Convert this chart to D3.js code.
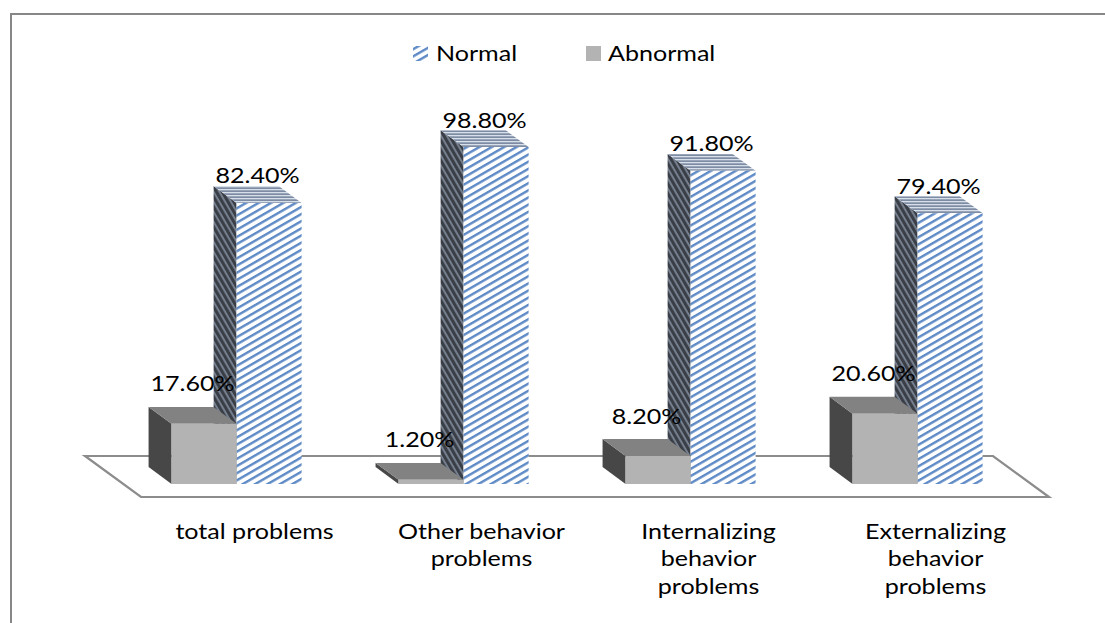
<!DOCTYPE html>
<html>
<head>
<meta charset="utf-8">
<script src="https://cdn.jsdelivr.net/npm/d3@7"></script>
<style>
  body { margin: 0; background: #fff; }
  svg text { font-family: Lato, "Open Sans", sans-serif; font-weight: 400; fill: #000; }
</style>
</head>
<body>
<svg id="chart" width="1105" height="623"></svg>
<script>
// ---- data ----
const categories = ["total problems", "Other behavior problems", "Internalizing behavior problems", "Externalizing behavior problems"];
const seriesNames = ["Normal", "Abnormal"];
const normalValues = [82.4, 98.8, 91.8, 79.4];
const abnormalValues = [17.6, 1.2, 8.2, 20.6];

const svg = d3.select("#chart");
const fmt = v => v.toFixed(2) + "%";
const FONT = 22, WIDEN = 1.14;   // text is drawn slightly widened horizontally

// ---- patterns ----
const defs = svg.append("defs");
function stripes(id, bg, fg, period, thick, angle) {
  const p = defs.append("pattern").attr("id", id)
    .attr("patternUnits", "userSpaceOnUse")
    .attr("width", period).attr("height", period)
    .attr("patternTransform", `rotate(${angle})`);
  p.append("rect").attr("width", period).attr("height", period).attr("fill", bg);
  p.append("rect").attr("width", period).attr("height", thick).attr("fill", fg);
}
stripes("normalFront", "#ffffff", "#5e8ac6", 6.2, 2.4, -30);
stripes("normalSide", "#3a3f47", "#7b8594", 5, 1.8, 60);
stripes("normalTop", "#7d8ca2", "#d6dfea", 3, 1.3, 0);

// ---- chart frame ----
svg.append("rect")
  .attr("x", 11).attr("y", 14).attr("width", 1200).attr("height", 700)
  .attr("fill", "none").attr("stroke", "#878787").attr("stroke-width", 2);

// ---- 3D projection ----
const floorFrontY = 497, floorLeft = 141, floorRight = 1049;
const floorDepth = [-56, -41];   // screen offset from front edge to back edge of the floor
const zFront = 0.32, zBack = 0.73;

const x = d3.scaleBand().domain(categories)
  .range([floorLeft, floorRight]).paddingInner(0.427).paddingOuter(0.2135);
const xs = d3.scaleBand().domain(["Abnormal", "Normal"]).range([0, x.bandwidth()]);
const y = d3.scaleLinear().domain([0, 100]).range([0, 341]);

function proj(px, h, z) {
  return [px + z * floorDepth[0], floorFrontY + z * floorDepth[1] - h];
}
const poly = pts => pts.map(p => p.join(",")).join(" ");

// helper: widened text anchored at (px, py)
function label(px, py, anchor) {
  return svg.append("text")
    .attr("transform", `translate(${px},${py}) scale(${WIDEN},1)`)
    .attr("text-anchor", anchor)
    .attr("font-size", FONT);
}

// floor
svg.append("polygon")
  .attr("points", poly([proj(floorLeft, 0, 0), proj(floorRight, 0, 0), proj(floorRight, 0, 1), proj(floorLeft, 0, 1)]))
  .attr("fill", "#fff").attr("stroke", "#8c8c8c").attr("stroke-width", 2.2);

// ---- bars ----
const styles = {
  Normal:   { front: "url(#normalFront)", side: "url(#normalSide)", top: "url(#normalTop)" },
  Abnormal: { front: "#b3b3b3", side: "#474747", top: "#828282" }
};
const bars = [];
categories.forEach((c, i) => {
  bars.push({ cat: c, series: "Normal", value: normalValues[i] });
  bars.push({ cat: c, series: "Abnormal", value: abnormalValues[i] });
});

const barG = svg.append("g");
bars.forEach(d => {
  const x0 = x(d.cat) + xs(d.series), x1 = x0 + xs.bandwidth(), h = y(d.value);
  const st = styles[d.series];
  const g = barG.append("g");
  g.append("polygon").attr("fill", st.side)
    .attr("points", poly([proj(x0, 0, zFront), proj(x0, h, zFront), proj(x0, h, zBack), proj(x0, 0, zBack)]));
  g.append("polygon").attr("fill", st.top)
    .attr("points", poly([proj(x0, h, zFront), proj(x1, h, zFront), proj(x1, h, zBack), proj(x0, h, zBack)]));
  g.append("polygon").attr("fill", st.front)
    .attr("points", poly([proj(x0, 0, zFront), proj(x1, 0, zFront), proj(x1, h, zFront), proj(x0, h, zFront)]));
});

// ---- data labels ----
const labelLift = { Normal: 11, Abnormal: 24 };
bars.forEach(d => {
  const xc = x(d.cat) + xs(d.series) + xs.bandwidth() / 2;
  const zMid = (zFront + zBack) / 2;
  const p = proj(xc, y(d.value), zMid);
  label(p[0], p[1] - labelLift[d.series], "middle").text(fmt(d.value));
});

// ---- category labels (wrapped) ----
function wrapWords(text, maxW) {
  const probe = svg.append("text").attr("font-size", FONT).attr("visibility", "hidden");
  const words = text.split(" ");
  const lines = [];
  let cur = "";
  words.forEach(w => {
    const test = cur ? cur + " " + w : w;
    probe.text(test);
    if (probe.node().getComputedTextLength() * WIDEN > maxW && cur) { lines.push(cur); cur = w; }
    else cur = test;
  });
  lines.push(cur);
  probe.remove();
  return lines;
}
categories.forEach(c => {
  const cx = x(c) + x.bandwidth() / 2;
  const lines = wrapWords(c, 180);
  const t = label(cx, 539, "middle");
  lines.forEach((ln, k) => {
    t.append("tspan").attr("x", 0).attr("y", k * 27.5).text(ln);
  });
});

// ---- legend ----
const legendItems = [
  { name: seriesNames[0], fill: "url(#normalFront)", mx: 413, tx: 436 },
  { name: seriesNames[1], fill: "#b3b3b3", mx: 586, tx: 608 }
];
legendItems.forEach(it => {
  svg.append("rect").attr("x", it.mx).attr("y", 46).attr("width", 15).attr("height", 15).attr("fill", it.fill);
  label(it.tx, 61, "start").text(it.name);
});
</script>
</body>
</html>
